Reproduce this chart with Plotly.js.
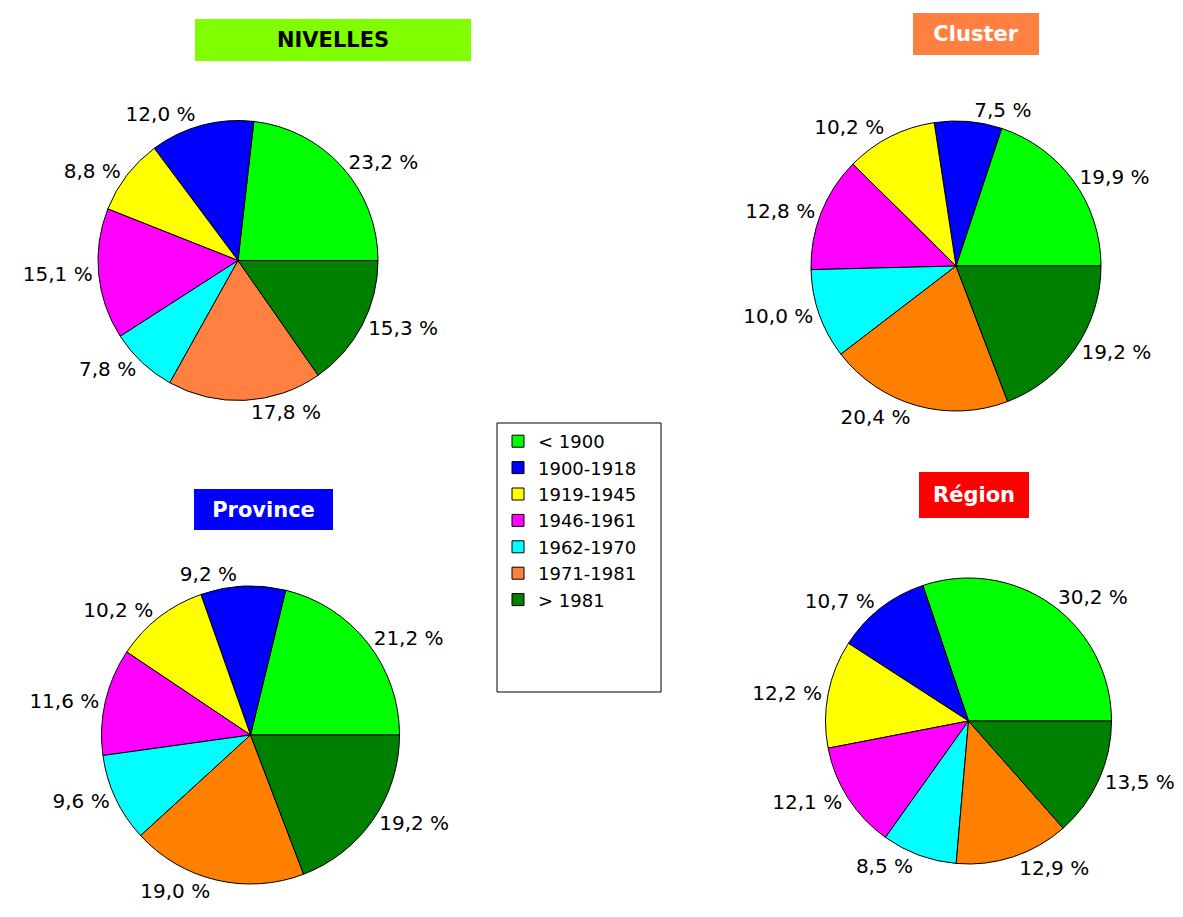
<!DOCTYPE html>
<html><head><meta charset="utf-8">
<script src="https://cdn.plot.ly/plotly-3.0.1.min.js"></script>
<style>html,body{margin:0;padding:0;background:#fff}#chart{width:1183px;height:917px}</style>
</head><body><div id="chart"></div>
<script>
// ---- data ----
const categories = ['< 1900', '1900-1918', '1919-1945', '1946-1961', '1962-1970', '1971-1981', '> 1981'];
const nivelles = [23.2, 12.0, 8.8, 15.1, 7.8, 17.8, 15.3];
const cluster  = [19.9, 7.5, 10.2, 12.8, 10.0, 20.4, 19.2];
const province = [21.2, 9.2, 10.2, 11.6, 9.6, 19.0, 19.2];
const region   = [30.2, 10.7, 12.2, 12.1, 8.5, 12.9, 13.5];
const titles = ['NIVELLES', 'Cluster', 'Province', 'Région'];

// ---- styles ----
const coloursNivelles = ['#00FF00', '#0000FF', '#FFFF00', '#FF00FF', '#00FFFF', '#FF8040', '#008000'];
const coloursOthers   = ['#00FF00', '#0000FF', '#FFFF00', '#FF00FF', '#00FFFF', '#FF8000', '#008000'];
const FONT = '"DejaVu Sans", Verdana, sans-serif';
const W = 1183, H = 917;

function domain(cx, cy, r) {
  return { x: [(cx - r) / W, (cx + r) / W], y: [(H - cy - r) / H, (H - cy + r) / H] };
}
// first slice starts at 3 o'clock, slices run counterclockwise
function rot(vals) {
  const s = vals.reduce((a, b) => a + b, 0);
  return 90 - 360 * vals[0] / s;
}
function pie(vals, colours, dom) {
  return {
    type: 'pie', labels: categories, values: vals, sort: false,
    direction: 'counterclockwise', rotation: rot(vals),
    domain: dom,
    marker: { colors: colours, line: { color: '#000', width: 1 } },
    textposition: 'outside', texttemplate: '%{value:.1f} %',
    outsidetextfont: { family: FONT, size: 20, color: '#000' },
    automargin: false, hoverinfo: 'label+value'
  };
}

const data = [
  pie(nivelles, coloursNivelles, domain(238, 260.5, 140)),
  pie(cluster, coloursOthers, domain(956, 266, 145)),
  pie(province, coloursOthers, domain(250.5, 735, 149)),
  pie(region, coloursOthers, domain(968.5, 721, 143))
];

const titleBoxes = [
  { cx: 333, cy: 40.5, w: 276, h: 42, bg: '#80FF00', fg: '#000' },
  { cx: 976, cy: 34.5, w: 126, h: 42, bg: '#FF8040', fg: '#fff' },
  { cx: 263.5, cy: 509.5, w: 139, h: 41, bg: '#0000FF', fg: '#fff' },
  { cx: 974, cy: 494.5, w: 110, h: 46, bg: '#FF0000', fg: '#fff' }
];
const annotations = titleBoxes.map((b, i) => ({
  xref: 'paper', yref: 'paper', x: b.cx / W, y: 1 - b.cy / H,
  xanchor: 'center', yanchor: 'middle', showarrow: false,
  text: '<b>' + titles[i] + '</b>',
  font: { family: FONT, size: 21, color: b.fg },
  bgcolor: b.bg, borderpad: 0, borderwidth: 0, width: b.w, height: b.h
}));

const layout = {
  width: W, height: H, margin: { l: 0, r: 0, t: 0, b: 0 },
  paper_bgcolor: '#fff', plot_bgcolor: '#fff',
  separators: ', ',
  font: { family: FONT, color: '#000' },
  showlegend: true,
  legend: {
    x: 498 / W, y: 1 - 423 / H, xanchor: 'left', yanchor: 'top',
    font: { family: FONT, size: 18, color: '#000' },
    bgcolor: 'rgba(0,0,0,0)', borderwidth: 0, traceorder: 'normal'
  },
  shapes: [{
    type: 'rect', xref: 'paper', yref: 'paper',
    x0: 497 / W, x1: 661 / W, y0: 1 - 692 / H, y1: 1 - 423 / H,
    line: { color: '#000', width: 1 }, fillcolor: 'rgba(0,0,0,0)'
  }],
  annotations: annotations
};

Plotly.newPlot('chart', data, layout, { displayModeBar: false, staticPlot: true });
</script>
</body></html>
